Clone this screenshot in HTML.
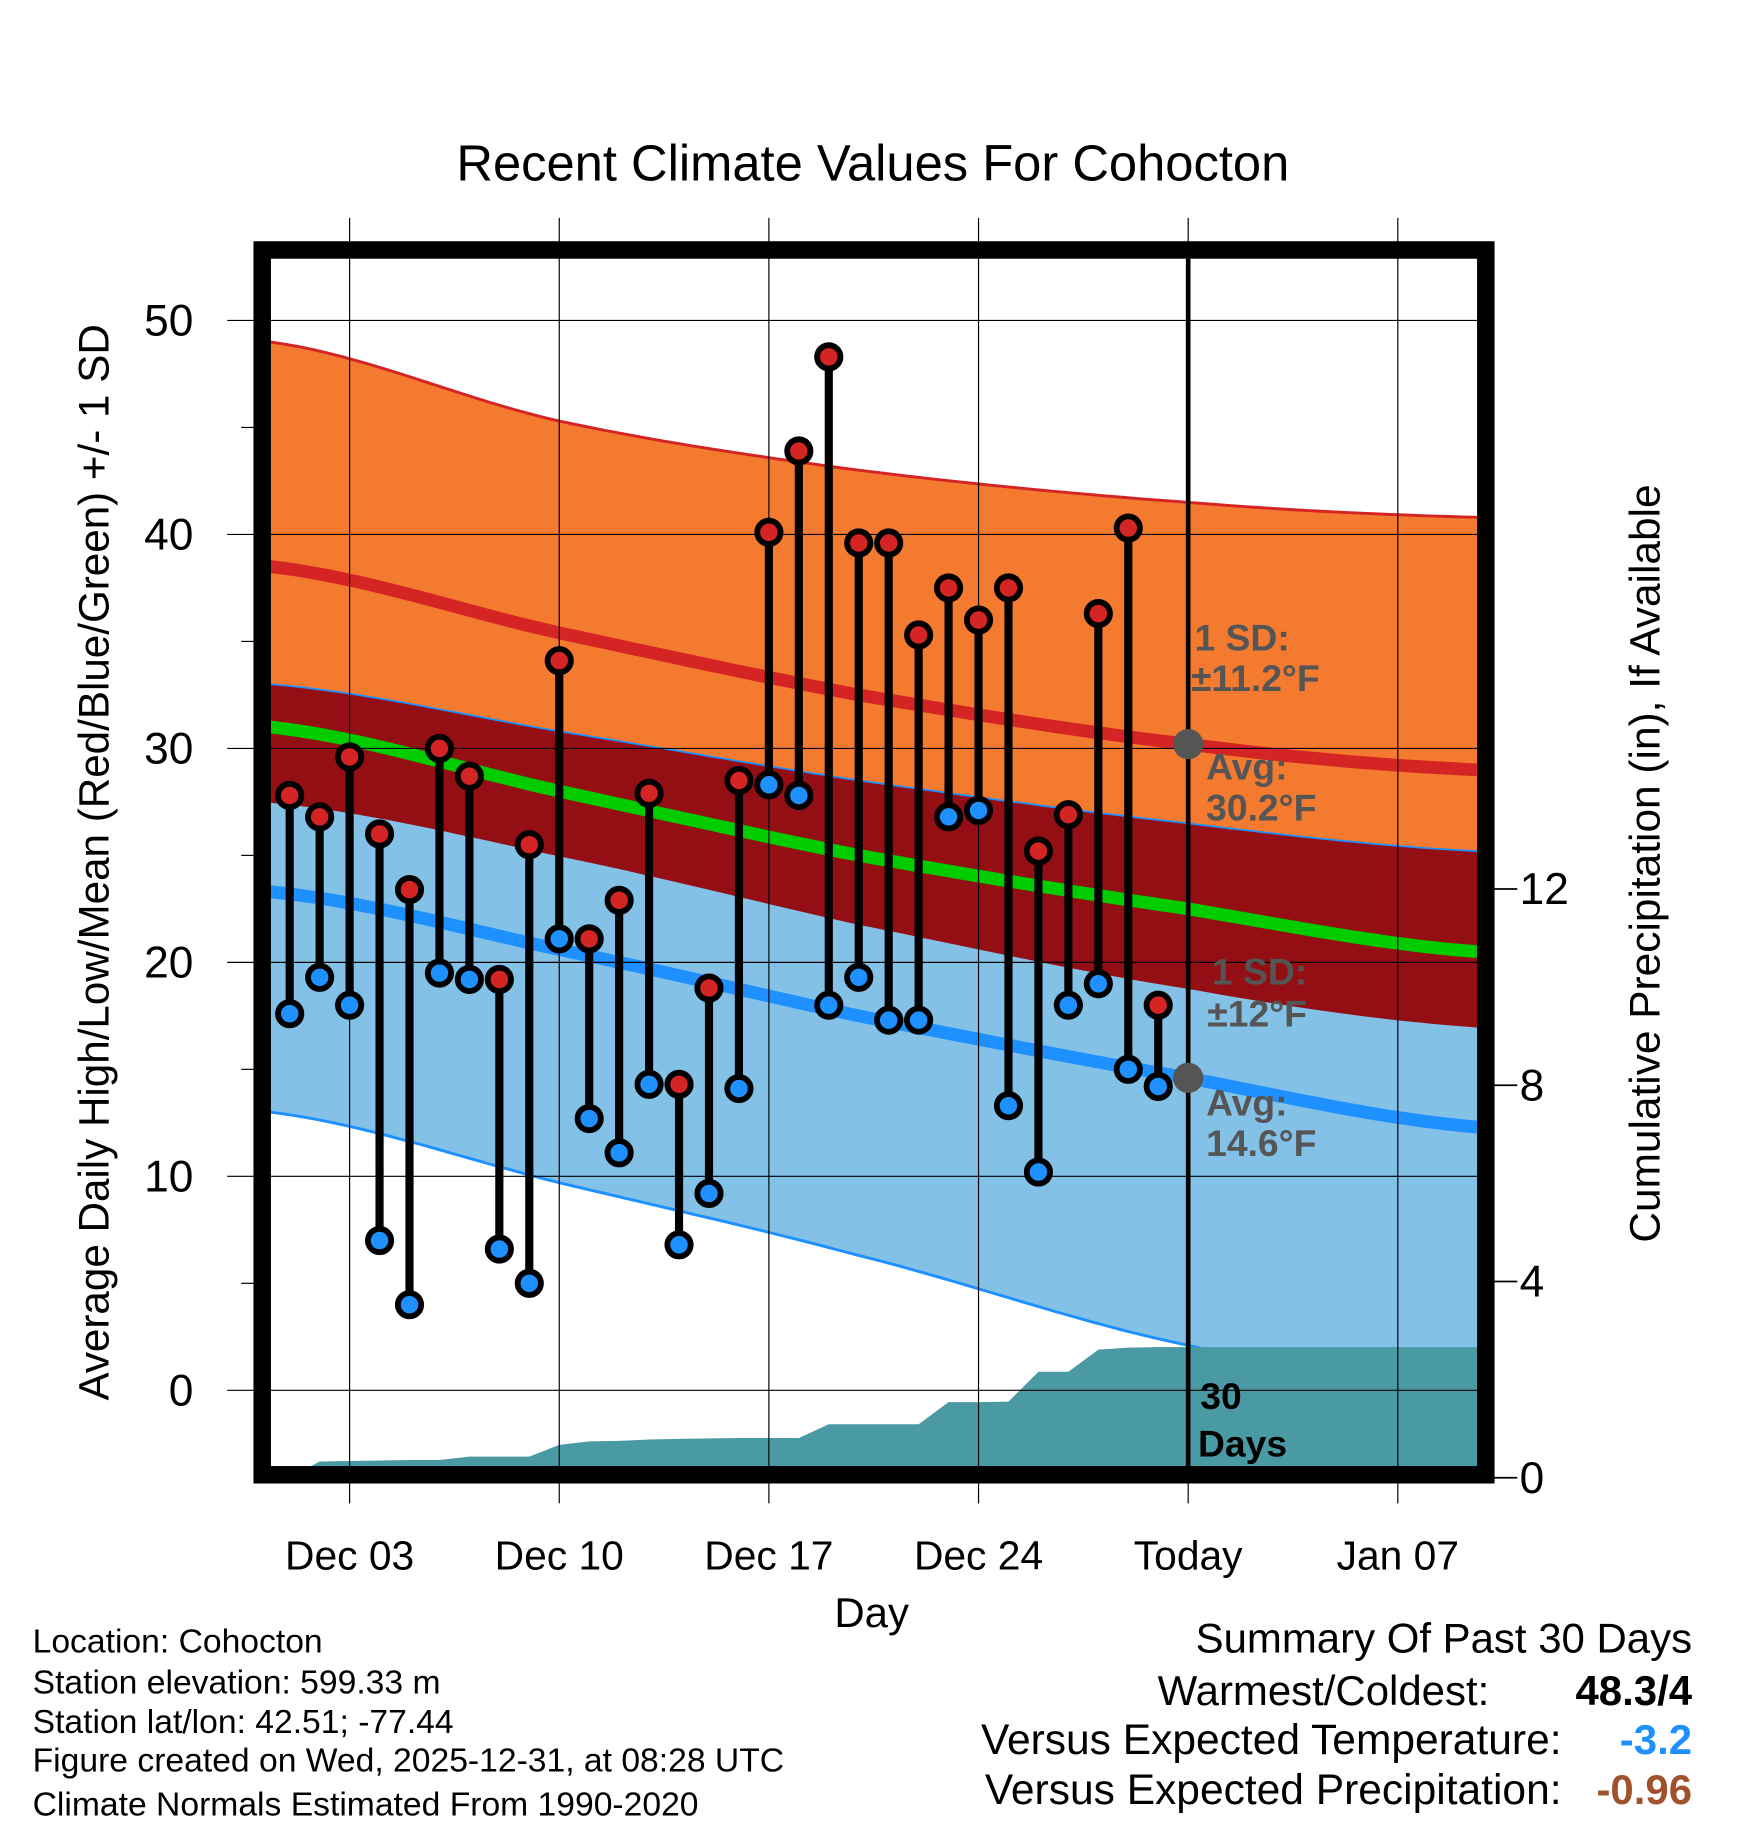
<!DOCTYPE html>
<html><head><meta charset="utf-8"><style>
html,body{margin:0;padding:0;background:#fff;}
svg{display:block;font-family:"Liberation Sans",sans-serif;}
</style></head><body>
<svg id="chart" width="1748" height="1828" viewBox="0 0 1500 1568.6" preserveAspectRatio="none" xmlns="http://www.w3.org/2000/svg">
<g id="bands"></g><g id="grid"></g><g id="marks"></g><g id="overlay"></g>
</svg>
<script>
const days=[1,2,3,4,5,6,7,8,9,10,11,12,13,14,15,16,17,18,19,20,21,22,23,24,25,26,27,28,29,30];
const highs=[27.8,26.8,29.6,26,23.4,30,28.7,19.2,25.5,34.1,21.1,22.9,27.9,14.3,18.8,28.5,40.1,43.9,48.3,39.6,39.6,35.3,37.5,36,37.5,25.2,26.9,36.3,40.3,18];
const lows=[17.6,19.3,18,7,4,19.5,19.2,6.6,5,21.1,12.7,11.1,14.3,6.8,9.2,14.1,28.3,27.8,18,19.3,17.3,17.3,26.8,27.1,13.3,10.2,18,19,15,14.2];
const precip=[0,0.33,0.34,0.35,0.36,0.36,0.43,0.43,0.43,0.67,0.74,0.75,0.78,0.79,0.80,0.81,0.81,0.81,1.09,1.09,1.09,1.09,1.54,1.54,1.55,2.16,2.16,2.61,2.65,2.66];
const normDays=[0.35,10,20,31,40.65];
const highPlusSD=[49,45.3,43,41.5,40.8];
const highAvg=[38.5,35.4,32.5,30.2,29];
const highMinusSD=[33,30.8,28.5,26.5,25.2];
const meanAvg=[31,28,25,22.5,20.5];
const lowPlusSD=[27.5,25,21.8,18.8,17];
const lowAvg=[23.3,20.6,17.5,14.6,12.3];
const lowMinusSD=[13,9.7,6.3,2.1,0];
const yTicks=[0,10,20,30,40,50];
const pTicks=[0,4,8,12];
const xTickDays=[3,10,17,24,31,38];
const xTickLabels=["Dec 03","Dec 10","Dec 17","Dec 24","Today","Jan 07"];

const NS="http://www.w3.org/2000/svg";
const X=d=>300+(d-3)*25.7;
const Y=v=>1193-v*18.36;
const P=v=>1268-v*42.1;
const L=232,R=1268,T=222,B=1260;
function mk(parent,tag,attrs,text){const e=document.createElementNS(NS,tag);for(const k in attrs)e.setAttribute(k,attrs[k]);if(text!==undefined)e.textContent=text;document.getElementById(parent).appendChild(e);return e;}
// smooth sampled points via Catmull-Rom interpolation
function samp(arr){const out=[];const n=normDays.length;
for(let i=0;i<n-1;i++){const p0=arr[Math.max(0,i-1)],p1=arr[i],p2=arr[i+1],p3=arr[Math.min(n-1,i+2)];
const d0=normDays[i],d1=normDays[i+1];
for(let s=0;s<20;s++){const t=s/20;const t2=t*t,t3=t2*t;
const v=0.5*((2*p1)+(-p0+p2)*t+(2*p0-5*p1+4*p2-p3)*t2+(-p0+3*p1-3*p2+p3)*t3);
out.push([X(d0+(d1-d0)*t),Y(v)]);}}
out.push([X(normDays[n-1]),Y(arr[n-1])]);return out;}
function pts(arr){return samp(arr).map(p=>p[0].toFixed(1)+","+p[1].toFixed(1));}
function band(a,b,fill,name){const p=pts(a).concat(pts(b).reverse()).join(" ");const e=mk("bands","polygon",{points:p,fill:fill});

}
band(highPlusSD,highMinusSD,"#f47a30","high-sd-band");
band(highMinusSD,lowPlusSD,"#930f14","overlap-band");
band(lowPlusSD,lowMinusSD,"#84c1e7","low-sd-band");
function line(arr,color,w,name){const e=mk("bands","polyline",{points:pts(arr).join(" "),fill:"none",stroke:color,"stroke-width":w});

}
line(highPlusSD,"#d42424",2.5,"high-plus-sd-line");
line(highMinusSD,"#1e90ff",1.5,"high-minus-sd-line");
line(lowPlusSD,"#930f14",1.5,"low-plus-sd-line");
line(lowMinusSD,"#1e90ff",2.5,"low-minus-sd-line");
line(highAvg,"#d42424",11,"avg-high-line");
line(meanAvg,"#00cc00",11,"avg-mean-line");
line(lowAvg,"#1e90ff",11,"avg-low-line");
// precip
let pp=[L+","+B,L+","+P(0)];
days.forEach((d,i)=>pp.push(X(d).toFixed(1)+","+P(precip[i]).toFixed(1)));
pp.push(R+","+P(precip[precip.length-1]).toFixed(1));pp.push(R+","+B);
const pa=mk("bands","polygon",{points:pp.join(" "),fill:"#4a9aa4"});


// grid
xTickDays.forEach((d,i)=>{const g=mk("grid","line",{x1:X(d),x2:X(d),y1:187,y2:1290,stroke:"#000","stroke-width":1});


const t=mk("overlay","text",{x:X(d),y:1347,"font-size":35,"text-anchor":"middle"},xTickLabels[i]);

});
yTicks.forEach(v=>{const g=mk("grid","line",{x1:195,x2:R,y1:Y(v),y2:Y(v),stroke:"#000","stroke-width":1});


const t=mk("overlay","text",{x:166,y:Y(v)+13,"font-size":38,"text-anchor":"end"},String(v));

});
for(let v=5;v<=50;v+=10){const g=mk("grid","line",{x1:207,x2:218,y1:Y(v),y2:Y(v),stroke:"#000","stroke-width":1});

}
pTicks.forEach(v=>{const g=mk("overlay","line",{x1:1282,x2:1302,y1:P(v),y2:P(v),stroke:"#000","stroke-width":1.5});


const t=mk("overlay","text",{x:1304,y:P(v)+13,"font-size":38},String(v));

});
// today line
const tl=mk("marks","line",{x1:X(31),x2:X(31),y1:T,y2:B,stroke:"#000","stroke-width":4});


// stems and dots
days.forEach((d,i)=>{const s=mk("marks","line",{x1:X(d),x2:X(d),y1:Y(highs[i]),y2:Y(lows[i]),stroke:"#000","stroke-width":7});

});
days.forEach((d,i)=>{const h=mk("marks","circle",{cx:X(d),cy:Y(highs[i]),r:10,fill:"#d42424",stroke:"#000","stroke-width":5});


const l=mk("marks","circle",{cx:X(d),cy:Y(lows[i]),r:10,fill:"#1e90ff",stroke:"#000","stroke-width":5});

});
// avg dots
[[highAvg[3],'avg-high-today-dot'],[lowAvg[3],'avg-low-today-dot']].forEach(a=>{const c=mk("marks","circle",{cx:X(31),cy:Y(a[0]),r:13,fill:"#555"});

});
// frame
const fr=mk("overlay","rect",{x:225,y:214.5,width:1050,height:1051,fill:"none",stroke:"#000","stroke-width":15});


// annotations
const ann=[["1 SD:",1025,558,"#555","sd-high-label"],["±11.2°F",1022,593,"#555","sd-high-value"],["Avg:",1035,669,"#555","avg-high-label"],["30.2°F",1035,704,"#555","avg-high-value"],["1 SD:",1040,845,"#555","sd-low-label"],["±12°F",1036,881,"#555","sd-low-value"],["Avg:",1035,957,"#555","avg-low-label"],["14.6°F",1035,992,"#555","avg-low-value"],["30",1030,1209,"#000","days-count"],["Days",1028,1250,"#000","days-label"]];
ann.forEach(a=>{const t=mk("overlay","text",{x:a[1],y:a[2],"font-size":32,"font-weight":"bold",fill:a[3]},a[0]);

});
</script>
<script>
(function(){
const NS="http://www.w3.org/2000/svg";const o=document.getElementById("overlay");
function T(txt,attrs,name){const e=document.createElementNS(NS,"text");for(const k in attrs)e.setAttribute(k,attrs[k]);e.textContent=txt;


o.appendChild(e);}
T("Recent Climate Values For Cohocton",{x:749,y:155,"font-size":43.5,"text-anchor":"middle"},"chart-title");
T("Average Daily High/Low/Mean (Red/Blue/Green) +/- 1 SD",{x:0,y:0,"font-size":36.2,"text-anchor":"middle",transform:"translate(93,740) rotate(-90)"},"y-axis-title");
T("Cumulative Precipitation (in), If Available",{x:0,y:0,"font-size":36.4,"text-anchor":"middle",transform:"translate(1424,741) rotate(-90)"},"precip-axis-title");
T("Day",{x:748,y:1396,"font-size":36,"text-anchor":"middle"},"x-axis-title");
const info=["Location: Cohocton","Station elevation: 599.33 m","Station lat/lon: 42.51; -77.44","Figure created on Wed, 2025-12-31, at 08:28 UTC","Climate Normals Estimated From 1990-2020"];
const iy=[1418,1453,1487,1520,1558];
info.forEach((s,i)=>T(s,{x:28,y:iy[i],"font-size":28.9},"station-info-line"));
T("Summary Of Past 30 Days",{x:1452,y:1418,"font-size":36,"text-anchor":"end"},"summary-title");
T("Warmest/Coldest:",{x:1278,y:1463,"font-size":36,"text-anchor":"end"},"warmest-coldest-label");
T("48.3/4",{x:1452,y:1463,"font-size":36,"text-anchor":"end","font-weight":"bold"},"warmest-coldest-value");
T("Versus Expected Temperature:",{x:1340,y:1505,"font-size":36.5,"text-anchor":"end"},"temp-departure-label");
T("-3.2",{x:1452,y:1505,"font-size":36,"text-anchor":"end","font-weight":"bold",fill:"#1e90ff"},"temp-departure-value");
T("Versus Expected Precipitation:",{x:1340,y:1548,"font-size":36.5,"text-anchor":"end"},"precip-departure-label");
T("-0.96",{x:1452,y:1548,"font-size":36,"text-anchor":"end","font-weight":"bold",fill:"#a0522d"},"precip-departure-value");
})();
</script>
</body></html>
